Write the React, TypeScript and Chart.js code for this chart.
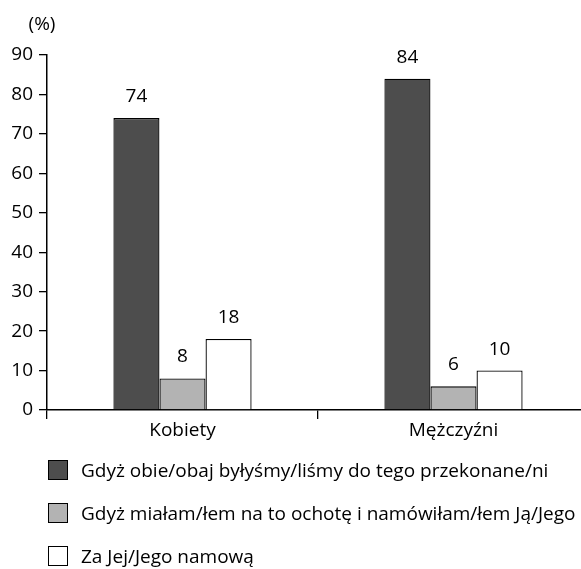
import React, { useEffect, useRef } from "react";
import { Chart, registerables } from "chart.js";

Chart.register(...registerables);

const categories = ["Kobiety", "Mężczyźni"];
const seriesLabels = [
  "Gdyż obie/obaj byłyśmy/liśmy do tego przekonane/ni",
  "Gdyż miałam/łem na to ochotę i namówiłam/łem Ją/Jego",
  "Za Jej/Jego namową",
];
const seriesA = [74, 84];
const seriesB = [8, 6];
const seriesC = [18, 10];
const seriesColors = ["#4d4d4d", "#b3b3b3", "#ffffff"];
const yTicks = [0, 10, 20, 30, 40, 50, 60, 70, 80, 90];
const unitLabel = "(%)";

const FONT = "'Open Sans', 'Noto Sans', sans-serif";

const valueLabels = {
  id: "valueLabels",
  afterDatasetsDraw(chart: any) {
    const ctx = chart.ctx;
    ctx.save();
    ctx.font = `19px ${FONT}`;
    ctx.fillStyle = "#000";
    ctx.textAlign = "center";
    ctx.textBaseline = "alphabetic";
    chart.data.datasets.forEach((ds: any, i: number) => {
      const meta = chart.getDatasetMeta(i);
      meta.data.forEach((bar: any, j: number) => {
        ctx.fillText(String(ds.data[j]), bar.x, bar.y - 16);
      });
    });
    const ys = chart.scales.y;
    ctx.textBaseline = "middle";
    ctx.fillText(unitLabel, ys.right - 5, chart.chartArea.top - 30);
    ctx.restore();
  },
};

export default function App() {
  const ref = useRef<HTMLCanvasElement>(null);
  useEffect(() => {
    document.body.style.overflow = "hidden";
    if (!ref.current) return;
    const chart = new Chart(ref.current, {
      type: "bar",
      data: {
        labels: categories,
        datasets: [seriesA, seriesB, seriesC].map((d, i) => ({
          label: seriesLabels[i],
          data: d,
          backgroundColor: seriesColors[i],
          borderColor: "#000",
          borderWidth: 1.3,
          categoryPercentage: 0.51,
          barPercentage: 1,
        })),
      },
      options: {
        animation: false,
        responsive: false,
        maintainAspectRatio: false,
        layout: { padding: { top: 47, left: 0, right: 0, bottom: 8 } },
        plugins: {
          legend: { display: false },
          tooltip: { enabled: false },
        },
        scales: {
          x: {
            afterFit: (s: any) => {
              s.height = 36;
            },
            grid: {
              offset: true,
              drawOnChartArea: false,
              drawTicks: true,
              tickLength: 9,
              color: "#000",
              lineWidth: 1.3,
            },
            border: { color: "#000", width: 1.5 },
            ticks: {
              color: "#000",
              font: { family: FONT, size: 19 },
              padding: 0,
            },
          },
          y: {
            min: 0,
            max: 90,
            afterFit: (s: any) => {
              s.width = 39;
            },
            afterBuildTicks: (s: any) => {
              s.ticks = yTicks.map((v) => ({ value: v }));
            },
            grid: {
              drawOnChartArea: false,
              drawTicks: true,
              tickLength: 8,
              color: "#000",
              lineWidth: 1.3,
            },
            border: { color: "#000", width: 1.5 },
            ticks: {
              color: "#000",
              font: { family: FONT, size: 19 },
              padding: 6,
            },
          },
        },
      },
      plugins: [valueLabels],
    });
    return () => chart.destroy();
  }, []);

  return (
    <div
      style={{
        position: "fixed",
        left: 0,
        top: 0,
        width: 581,
        height: 569,
        overflow: "hidden",
        background: "#fff",
        fontFamily: FONT,
      }}
    >
      <canvas
        ref={ref}
        width={581}
        height={446}
        style={{ display: "block", position: "absolute", left: 8, top: 8 }}
      />
      <div style={{ position: "absolute", left: 48, top: 448.25 }}>
        {seriesLabels.map((l, i) => (
          <div
            key={i}
            style={{
              display: "flex",
              alignItems: "center",
              height: 43.25,
              fontSize: 19,
              color: "#000",
              whiteSpace: "nowrap",
            }}
          >
            <span
              style={{
                width: 18,
                height: 18,
                border: "1.5px solid #000",
                background: seriesColors[i],
                marginRight: 13,
                flex: "none",
              }}
            />
            <span>{l}</span>
          </div>
        ))}
      </div>
    </div>
  );
}
